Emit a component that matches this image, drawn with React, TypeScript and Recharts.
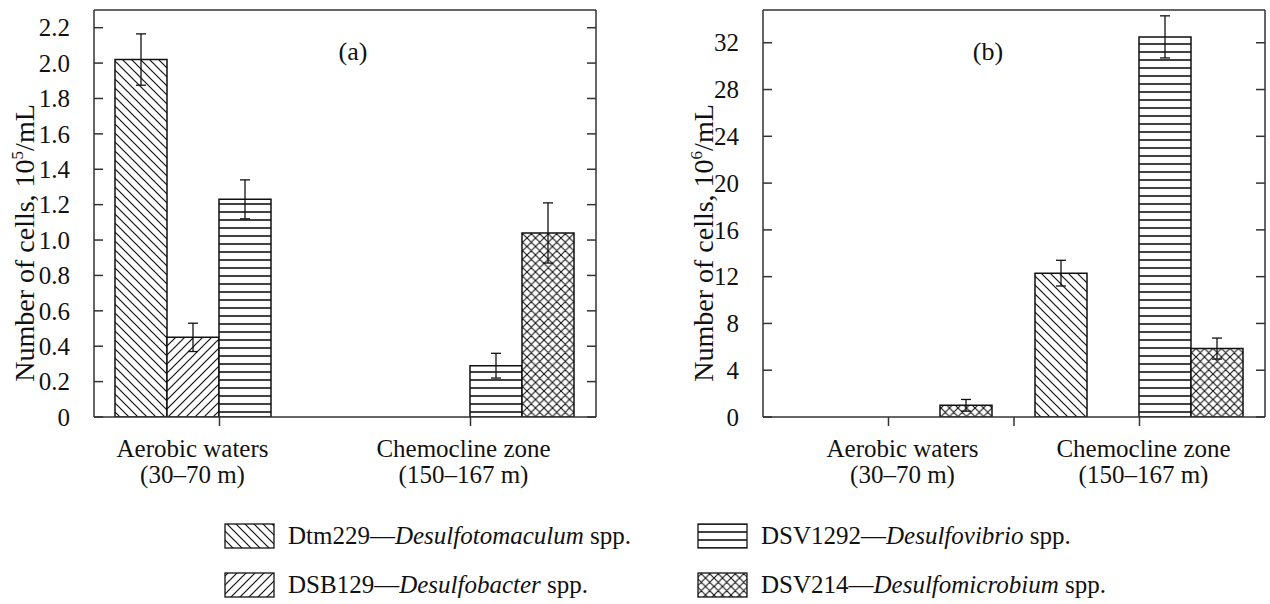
import React from 'react';
import { BarChart, Bar, XAxis, YAxis, ErrorBar, ReferenceLine } from 'recharts';

// ---------- data ----------
const zoneNames = ['Aerobic waters', 'Chemocline zone'];
const zoneDepths = ['(30–70 m)', '(150–167 m)'];

const seriesCodes = ['Dtm229', 'DSB129', 'DSV1292', 'DSV214'];
const seriesGenera = ['Desulfotomaculum', 'Desulfobacter', 'Desulfovibrio', 'Desulfomicrobium'];

// panel (a): 10^5 cells/mL
const aDtm229 = [2.02, null];
const aDtm229Err = [0.145, null];
const aDSB129 = [0.45, null];
const aDSB129Err = [0.08, null];
const aDSV1292 = [1.23, 0.29];
const aDSV1292Err = [0.11, 0.07];
const aDSV214 = [null, 1.04];
const aDSV214Err = [null, 0.17];
const aTicks = [0, 0.2, 0.4, 0.6, 0.8, 1.0, 1.2, 1.4, 1.6, 1.8, 2.0, 2.2];
const aMax = 2.3;

// panel (b): 10^6 cells/mL
const bDtm229 = [null, 12.3];
const bDtm229Err = [null, 1.1];
const bDSB129 = [null, null];
const bDSB129Err = [null, null];
const bDSV1292 = [null, 32.5];
const bDSV1292Err = [null, 1.8];
const bDSV214 = [1.0, 5.85];
const bDSV214Err = [0.5, 0.9];
const bTicks = [0, 4, 8, 12, 16, 20, 24, 28, 32];
const bMax = 34.8;

type Num = number | null;

function buildRows(vals: Num[][], errs: Num[][]) {
  return zoneNames.map((name, i) => {
    const row: any = { zone: name };
    vals.forEach((v, k) => {
      row['s' + k] = v[i];
      row['e' + k] = errs[k][i];
    });
    return row;
  });
}

const rowsA = buildRows(
  [aDtm229, aDSB129, aDSV1292, aDSV214],
  [aDtm229Err, aDSB129Err, aDSV1292Err, aDSV214Err]
);
const rowsB = buildRows(
  [bDtm229, bDSB129, bDSV1292, bDSV214],
  [bDtm229Err, bDSB129Err, bDSV1292Err, bDSV214Err]
);

// ---------- styling ----------
const FONT = '"Liberation Serif", "Times New Roman", serif';
const INK = '#111';
const AXIS = '#333';

const Patterns = () => (
  <defs>
    <pattern id="p0" patternUnits="userSpaceOnUse" width="9" height="9">
      <rect width="9" height="9" fill="#fff" />
      <path d="M0,0 L9,9 M-3,6 L3,12 M6,-3 L12,3" stroke={INK} strokeWidth="1.2" />
    </pattern>
    <pattern id="p1" patternUnits="userSpaceOnUse" width="9" height="9">
      <rect width="9" height="9" fill="#fff" />
      <path d="M0,9 L9,0 M-3,3 L3,-3 M6,12 L12,6" stroke={INK} strokeWidth="1.2" />
    </pattern>
    <pattern id="p2" patternUnits="userSpaceOnUse" width="8" height="8">
      <rect width="8" height="8" fill="#fff" />
      <path d="M0,4 L8,4" stroke={INK} strokeWidth="1.6" />
    </pattern>
    <pattern id="p3" patternUnits="userSpaceOnUse" width="8.5" height="8.5">
      <rect width="8.5" height="8.5" fill="#fff" />
      <path d="M0,0 L8.5,8.5 M0,8.5 L8.5,0 M-1,1 L1,-1 M7.5,9.5 L9.5,7.5 M-1,7.5 L1,9.5 M7.5,-1 L9.5,1" stroke={INK} strokeWidth="1.1" />
    </pattern>
  </defs>
);

const EmptyTick = () => <g />;

const makeYTick = (fmt: (v: number) => string) => (props: any) => {
  const { x, y, payload } = props;
  return (
    <text x={x} y={y} dy="0.35em" textAnchor="end" fontFamily={FONT} fontSize={25} fill={INK}>
      {fmt(payload.value)}
    </text>
  );
};

const makeXTick = (dxs: number[], extra: boolean) => (props: any) => {
  const { x, y, payload } = props;
  const i = payload?.index ?? props.index ?? 0;
  const cx = x + dxs[i];
  const off = payload?.offset ?? 125.5;
  return (
    <g>
      {extra && i === 0 ? (
        <line x1={x + off} x2={x + off} y1={y - 9} y2={y} stroke={AXIS} strokeWidth={1.5} />
      ) : null}
      <text x={cx} y={y} textAnchor="middle" fontFamily={FONT} fontSize={25} fill={INK}>
        <tspan x={cx} dy={31}>{zoneNames[i]}</tspan>
        <tspan x={cx} dy={26}>{zoneDepths[i]}</tspan>
      </text>
    </g>
  );
};

const fmtA = (v: number) => (v === 0 ? '0' : v.toFixed(1));
const fmtB = (v: number) => String(v);

function Panel(props: {
  rows: any[];
  ticks: number[];
  max: number;
  fmt: (v: number) => string;
  dxs: number[];
  extra: boolean;
}) {
  const { rows, ticks, max, fmt, dxs, extra } = props;
  return (
    <BarChart
      width={620}
      height={510}
      data={rows}
      margin={{ top: 10, right: 14, bottom: 13, left: 20 }}
      barCategoryGap={21}
      barGap={0}
    >
      <XAxis
        dataKey="zone"
        height={80}
        tickSize={9}
        tickMargin={0}
        interval={0}
        axisLine={{ stroke: AXIS, strokeWidth: 1.5 }}
        tickLine={{ stroke: AXIS, strokeWidth: 1.5 }}
        tick={makeXTick(dxs, extra)}
      />
      <YAxis
        yAxisId="l"
        width={74}
        domain={[0, max]}
        ticks={ticks}
        interval={0}
        tickSize={-9}
        tickMargin={33}
        axisLine={{ stroke: AXIS, strokeWidth: 1.5 }}
        tickLine={{ stroke: AXIS, strokeWidth: 1.5 }}
        tick={makeYTick(fmt)}
        allowDataOverflow
      />
      <YAxis
        yAxisId="r"
        orientation="right"
        width={10}
        domain={[0, max]}
        ticks={ticks}
        interval={0}
        tickSize={-9}
        axisLine={{ stroke: AXIS, strokeWidth: 1.5 }}
        tickLine={{ stroke: AXIS, strokeWidth: 1.5 }}
        tick={EmptyTick}
        allowDataOverflow
      />
      <ReferenceLine yAxisId="l" y={max} stroke={AXIS} strokeWidth={1.5} ifOverflow="extendDomain" />
      {[0, 1, 2, 3].map((k) => (
        <Bar
          key={k}
          yAxisId="l"
          dataKey={'s' + k}
          fill={`url(#p${k})`}
          stroke={INK}
          strokeWidth={1.5}
          isAnimationActive={false}
        >
          <ErrorBar dataKey={'e' + k} width={5} stroke={INK} strokeWidth={1.3} direction="y" />
        </Bar>
      ))}
    </BarChart>
  );
}

function YLabel({ cx, cy, exp }: { cx: number; cy: number; exp: string }) {
  return (
    <text
      x={cx}
      y={cy}
      transform={`rotate(-90, ${cx}, ${cy})`}
      textAnchor="middle"
      fontFamily={FONT}
      fontSize={28}
      fill={INK}
    >
      <tspan>Number of cells, 10</tspan>
      <tspan dy={-11} fontSize={17}>{exp}</tspan>
      <tspan dy={11}>/mL</tspan>
    </text>
  );
}

function LegendItem({ k, x, y }: { k: number; x: number; y: number }) {
  return (
    <g>
      <rect x={x} y={y - 12} width={49} height={24} fill={`url(#p${k})`} stroke={INK} strokeWidth={1.3} />
      <text x={x + 63} y={y + 8} fontFamily={FONT} fontSize={25} fill={INK}>
        <tspan>{seriesCodes[k]}—</tspan>
        <tspan fontStyle="italic">{seriesGenera[k]}</tspan>
        <tspan> spp.</tspan>
      </text>
    </g>
  );
}

export default function App() {
  return (
    <div style={{ position: 'absolute', left: 0, top: 0, width: 1270, height: 604, background: '#fff' }}>
      <svg width={0} height={0} style={{ position: 'absolute' }}>
        <Patterns />
      </svg>
      <div style={{ position: 'absolute', left: 0, top: 0 }}>
        <Panel rows={rowsA} ticks={aTicks} max={aMax} fmt={fmtA} dxs={[-27, -7]} extra={false} />
      </div>
      <div style={{ position: 'absolute', left: 669, top: 0 }}>
        <Panel rows={rowsB} ticks={bTicks} max={bMax} fmt={fmtB} dxs={[14, 4]} extra={true} />
      </div>
      <svg
        width={1270}
        height={604}
        style={{ position: 'absolute', left: 0, top: 0, pointerEvents: 'none' }}
      >
        <text x={353} y={60} textAnchor="middle" fontFamily={FONT} fontSize={26} fill={INK}>(a)</text>
        <text x={988} y={60} textAnchor="middle" fontFamily={FONT} fontSize={26} fill={INK}>(b)</text>
        <YLabel cx={34} cy={243} exp="5" />
        <YLabel cx={713} cy={243} exp="6" />
        <LegendItem k={0} x={225} y={536} />
        <LegendItem k={1} x={225} y={585} />
        <LegendItem k={2} x={698} y={536} />
        <LegendItem k={3} x={698} y={585} />
      </svg>
    </div>
  );
}
